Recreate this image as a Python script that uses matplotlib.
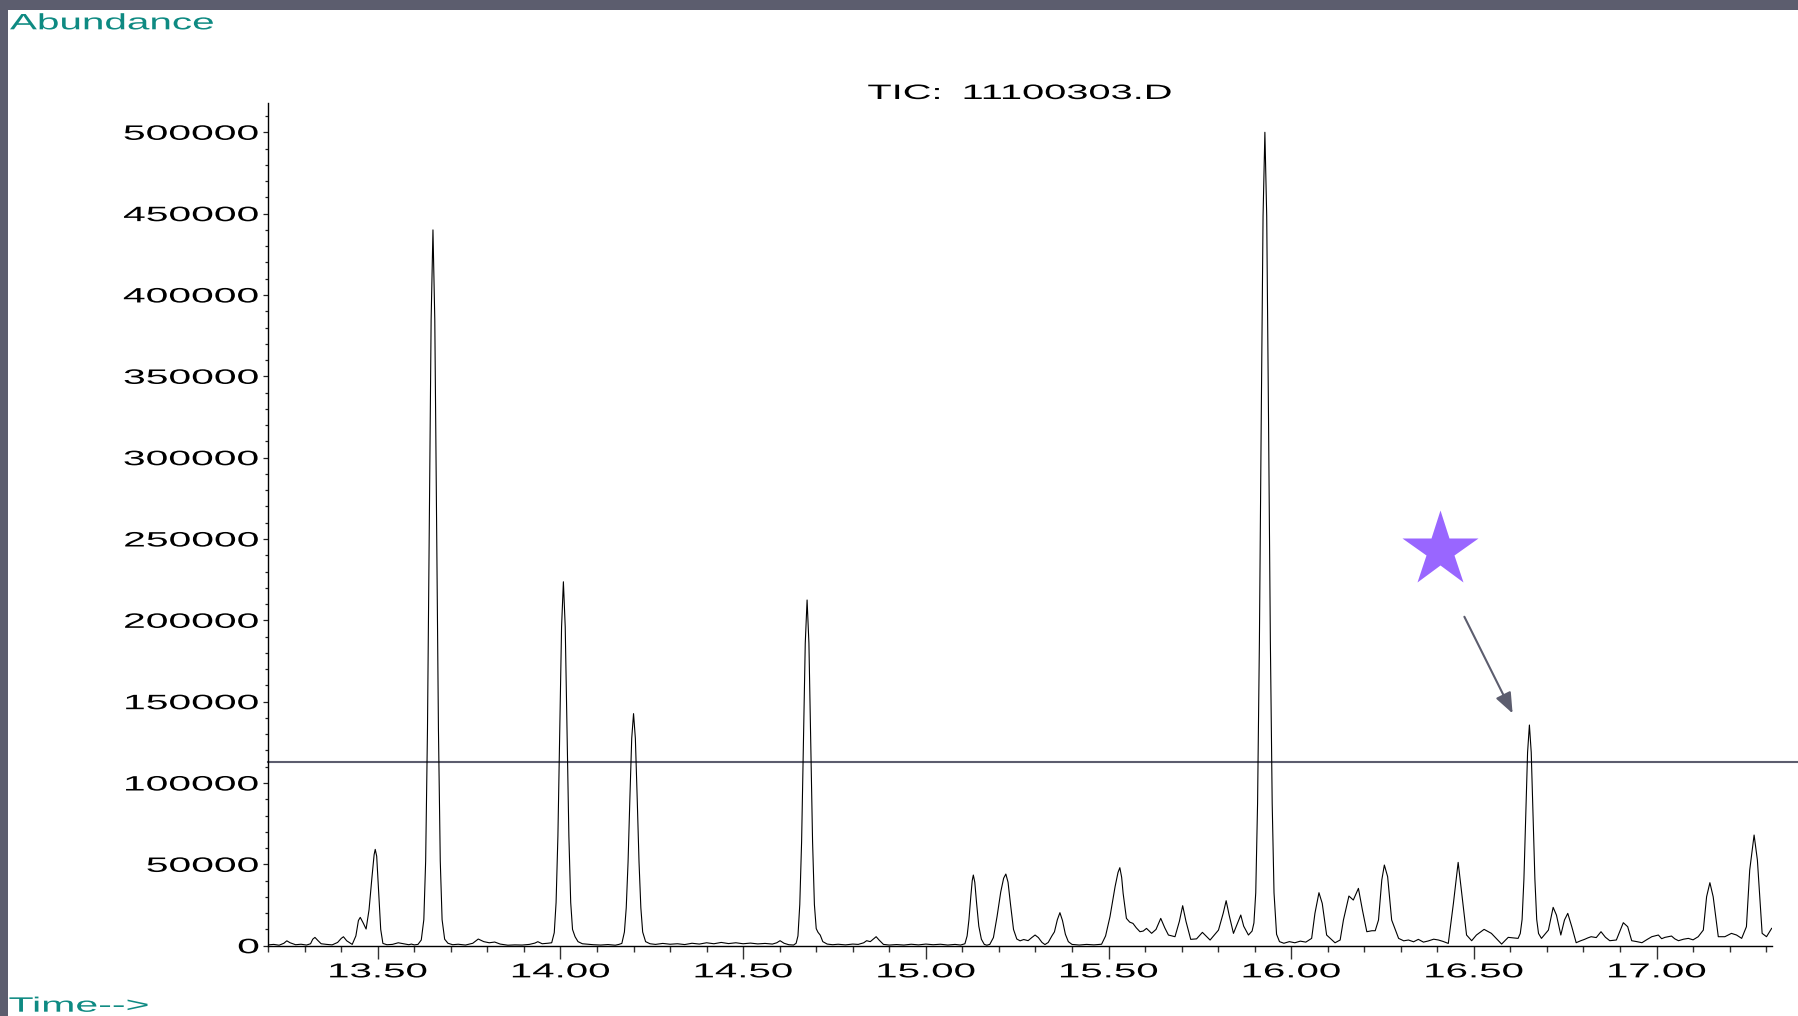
import matplotlib
matplotlib.use('Agg')
import numpy as np
import matplotlib.pyplot as plt
from matplotlib.patheffects import AbstractPathEffect
from matplotlib.transforms import Affine2D
from matplotlib.ticker import MultipleLocator, FuncFormatter
from matplotlib.patches import Rectangle

plt.rcParams['font.family'] = ['Liberation Sans', 'DejaVu Sans']

# ---------------- data ----------------
time_min = [
    13.200, 13.215, 13.230, 13.243, 13.251, 13.260, 13.275, 13.290, 13.305, 13.316,
    13.322, 13.328, 13.336, 13.345, 13.360, 13.375, 13.390, 13.400, 13.406, 13.415,
    13.430, 13.440, 13.447, 13.452, 13.460, 13.468, 13.476, 13.484, 13.490, 13.493,
    13.497, 13.503, 13.508, 13.514, 13.525, 13.540, 13.556, 13.570, 13.585, 13.592,
    13.600, 13.610, 13.619, 13.626, 13.631, 13.636, 13.641, 13.646, 13.651, 13.656,
    13.661, 13.666, 13.671, 13.676, 13.683, 13.692, 13.705, 13.720, 13.740, 13.760,
    13.775, 13.790, 13.805, 13.820, 13.835, 13.856, 13.875, 13.895, 13.915, 13.930,
    13.938, 13.950, 13.965, 13.976, 13.983, 13.988, 13.993, 13.998, 14.003, 14.008,
    14.013, 14.018, 14.023, 14.028, 14.033, 14.040, 14.048, 14.060, 14.075, 14.090,
    14.110, 14.130, 14.150, 14.160, 14.168, 14.175, 14.180, 14.185, 14.190, 14.195,
    14.200, 14.205, 14.210, 14.215, 14.220, 14.225, 14.233, 14.245, 14.260, 14.280,
    14.300, 14.320, 14.340, 14.360, 14.380, 14.400, 14.420, 14.440, 14.460, 14.480,
    14.500, 14.520, 14.540, 14.560, 14.580, 14.592, 14.601, 14.612, 14.625, 14.638,
    14.645, 14.650, 14.655, 14.660, 14.665, 14.670, 14.675, 14.680, 14.685, 14.690,
    14.695, 14.700, 14.705, 14.711, 14.718, 14.730, 14.745, 14.760, 14.780, 14.800,
    14.815, 14.830, 14.838, 14.848, 14.856, 14.864, 14.872, 14.884, 14.900, 14.920,
    14.940, 14.960, 14.980, 15.000, 15.020, 15.040, 15.060, 15.080, 15.095, 15.107,
    15.113, 15.118, 15.123, 15.127, 15.130, 15.134, 15.139, 15.145, 15.152, 15.160,
    15.167, 15.175, 15.185, 15.195, 15.205, 15.213, 15.219, 15.225, 15.232, 15.240,
    15.249, 15.258, 15.268, 15.280, 15.290, 15.299, 15.308, 15.318, 15.326, 15.335,
    15.345, 15.352, 15.360, 15.367, 15.374, 15.382, 15.390, 15.400, 15.420, 15.440,
    15.460, 15.481, 15.492, 15.504, 15.518, 15.526, 15.531, 15.536, 15.540, 15.549,
    15.558, 15.567, 15.576, 15.586, 15.595, 15.604, 15.618, 15.630, 15.643, 15.654,
    15.664, 15.682, 15.694, 15.703, 15.712, 15.725, 15.741, 15.757, 15.778, 15.801,
    15.814, 15.822, 15.830, 15.842, 15.855, 15.862, 15.870, 15.883, 15.893, 15.898,
    15.903, 15.908, 15.913, 15.918, 15.923, 15.928, 15.933, 15.938, 15.943, 15.948,
    15.953, 15.960, 15.968, 15.980, 15.995, 16.010, 16.025, 16.040, 16.056, 16.065,
    16.076, 16.085, 16.097, 16.120, 16.134, 16.143, 16.158, 16.170, 16.184, 16.195,
    16.207, 16.221, 16.230, 16.239, 16.248, 16.255, 16.264, 16.275, 16.294, 16.308,
    16.321, 16.335, 16.348, 16.362, 16.375, 16.390, 16.403, 16.416, 16.430, 16.444,
    16.457, 16.468, 16.480, 16.494, 16.507, 16.528, 16.548, 16.576, 16.594, 16.621,
    16.627, 16.632, 16.637, 16.642, 16.647, 16.652, 16.657, 16.662, 16.667, 16.672,
    16.677, 16.685, 16.704, 16.717, 16.726, 16.738, 16.748, 16.757, 16.768, 16.780,
    16.792, 16.803, 16.812, 16.821, 16.835, 16.848, 16.860, 16.872, 16.890, 16.909,
    16.921, 16.932, 16.946, 16.960, 16.974, 16.987, 17.005, 17.014, 17.023, 17.041,
    17.050, 17.060, 17.074, 17.087, 17.100, 17.114, 17.128, 17.137, 17.146, 17.155,
    17.169, 17.187, 17.205, 17.219, 17.233, 17.246, 17.255, 17.267, 17.276, 17.289,
    17.301, 17.315,
]
abundance = [
    500, 800, 300, 1500, 3000, 1800, 600, 900, 400, 1200,
    4000, 5100, 3200, 1200, 800, 500, 2000, 4500, 5500, 3000,
    800, 6000, 15500, 17400, 14000, 10250, 22000, 42000, 56000, 59200,
    55000, 30000, 10000, 1400, 600, 800, 1800, 1200, 600, 1000,
    500, 800, 3500, 16000, 52000, 133000, 259000, 385000, 440000, 385000,
    259000, 133000, 52000, 16000, 4000, 1500, 600, 900, 400, 1500,
    4100, 2500, 1800, 2250, 1000, 300, 500, 400, 800, 1600,
    2460, 1200, 1500, 1800, 8000, 26600, 67500, 131500, 196000, 223700,
    196000, 131500, 67500, 26600, 10000, 5500, 2500, 1200, 900, 600,
    400, 700, 300, 800, 1400, 8400, 23300, 51400, 90600, 127400,
    142650, 127400, 90600, 51400, 23300, 8400, 2500, 1200, 800, 1400,
    900, 1200, 700, 1500, 1000, 1800, 1200, 2000, 1300, 1800,
    1200, 1600, 1100, 1400, 1000, 1800, 3070, 1500, 600, 400,
    1500, 6000, 25300, 64000, 125000, 186000, 212500, 186000, 125000, 64000,
    25300, 10500, 8200, 6500, 2500, 1000, 600, 900, 500, 1000,
    800, 1800, 3070, 2500, 4000, 5530, 3500, 800, 400, 700,
    400, 900, 500, 1000, 600, 900, 400, 800, 400, 1200,
    6000, 16000, 30000, 40000, 43440, 39000, 26000, 12000, 4000, 800,
    300, 800, 5000, 18000, 33000, 41500, 44050, 39000, 25000, 10000,
    4100, 3000, 3800, 3100, 5000, 6560, 5000, 2000, 700, 2000,
    6000, 8500, 16000, 20290, 15500, 7000, 2500, 800, 400, 800,
    500, 900, 6000, 17800, 36300, 45000, 47950, 42000, 32200, 16800,
    14500, 13700, 11000, 8600, 9000, 10650, 7600, 10000, 16800, 11000,
    6560, 5530, 15000, 24590, 15000, 3900, 4200, 8200, 3480, 9600,
    20000, 27660, 19000, 7580, 15000, 18850, 12000, 6560, 9000, 14000,
    32500, 87500, 187000, 323000, 448500, 500000, 448500, 323000, 187000, 87500,
    32500, 7000, 2500, 1500, 2500, 1800, 2800, 2200, 4500, 19900,
    32580, 26000, 6560, 1800, 3500, 15800, 30530, 28070, 35240, 21900,
    8600, 9200, 9200, 15800, 40400, 49590, 42400, 15800, 4500, 3000,
    3500, 2400, 3900, 2200, 2900, 4000, 3500, 2600, 1400, 26000,
    51220, 30100, 6560, 3070, 6560, 10040, 7580, 1000, 5120, 4500,
    7500, 16100, 41000, 79800, 118800, 135650, 118800, 79800, 41000, 16100,
    7500, 4500, 9600, 23560, 18850, 6560, 15800, 19880, 11680, 1840,
    3000, 3900, 4800, 5530, 5000, 8600, 5200, 3070, 3500, 14140,
    11680, 3070, 2500, 1840, 3800, 5530, 6560, 4300, 5120, 5940,
    4200, 3070, 4000, 4500, 3600, 5530, 9600, 30100, 38730, 30100,
    5530, 5530, 7580, 6560, 4500, 11680, 46500, 68030, 52660, 7580,
    5530, 10650,
]
x_range = (13.1995, 17.316)
y_range = (0, 518000)
title_text = 'TIC: \u200911100303.D'
y_label = 'Abundance'
x_label = 'Time-->'
threshold_level = 112900
star_point = (16.4086, 243085)
arrow_from = (16.474, 202200)
arrow_to = (16.606, 142800)

TEAL = '#0e8a82'
GREY = '#5c5d6e'


class Stretch(AbstractPathEffect):
    """Widen glyph outlines horizontally (the source screenshot is stretched)."""

    def __init__(self, sx, anchor='center'):
        super().__init__((0, 0))
        self.sx = sx
        self.anchor = anchor

    def draw_path(self, renderer, gc, tpath, affine, rgbFace=None):
        ext = tpath.get_extents(affine)
        if not np.all(np.isfinite([ext.x0, ext.x1])):
            renderer.draw_path(gc, tpath, affine, rgbFace)
            return
        if self.anchor == 'left':
            x0 = ext.x0
        elif self.anchor == 'right':
            x0 = ext.x1
        else:
            x0 = 0.5 * (ext.x0 + ext.x1)
        tr = affine + Affine2D().translate(-x0, 0).scale(self.sx, 1).translate(x0, 0)
        renderer.draw_path(gc, tpath, tr, rgbFace)


W, H = 1799, 1016
fig = plt.figure(figsize=(W / 100, H / 100), dpi=100, facecolor=GREY)
fig.add_artist(Rectangle((8 / W, 0), 1, 1 - 10 / H, transform=fig.transFigure,
                         facecolor='white', edgecolor='none', zorder=-10))

ax_left, ax_right = 268, 1772
ax_top, ax_bottom = 103, 945.7
ax = fig.add_axes([ax_left / W, (H - ax_bottom) / H,
                   (ax_right - ax_left) / W, (ax_bottom - ax_top) / H])
ax.patch.set_visible(False)

ax.plot(time_min, abundance, color='black', lw=0.8, zorder=3)
ax.set_xlim(*x_range)
ax.set_ylim(*y_range)

for s in ('top', 'right'):
    ax.spines[s].set_visible(False)
for s in ('left', 'bottom'):
    ax.spines[s].set_linewidth(1.0)
    ax.spines[s].set_color('black')

ax.xaxis.set_major_locator(MultipleLocator(0.5))
ax.xaxis.set_minor_locator(MultipleLocator(0.1))
ax.xaxis.set_major_formatter(FuncFormatter(lambda v, p: f'{v:.2f}'))
ax.yaxis.set_major_locator(MultipleLocator(50000))
ax.yaxis.set_minor_locator(MultipleLocator(10000))
ax.yaxis.set_major_formatter(FuncFormatter(lambda v, p: f'{int(round(v))}'))

ax.tick_params(axis='x', which='major', direction='out', length=9, width=1.0,
               color='#333333', pad=3.0, labelsize=14.5)
ax.tick_params(axis='x', which='minor', direction='out', length=4.3, width=1.0,
               color='#333333')
ax.tick_params(axis='y', which='major', direction='out', length=3.6, width=0.9,
               color='#222222', pad=2.7, labelsize=15)
ax.tick_params(axis='y', which='minor', direction='out', length=2.2, width=0.9,
               color='#222222')

ax.set_title(title_text, fontsize=15, pad=2.2, color='black',
             path_effects=[Stretch(1.91, 'center')])

ax.set_ylabel(y_label, fontsize=16, color=TEAL, rotation=0, ha='left', va='baseline',
              path_effects=[Stretch(1.82, 'left')])
ax.yaxis.set_label_coords((10 - ax_left) / (ax_right - ax_left),
                          (ax_bottom - 29.3) / (ax_bottom - ax_top))
ax.set_xlabel(x_label, fontsize=15, color=TEAL, ha='left', va='baseline',
              path_effects=[Stretch(1.97, 'left')])
ax.xaxis.set_label_coords((9 - ax_left) / (ax_right - ax_left),
                          (ax_bottom - 1011.7) / (ax_bottom - ax_top))

# threshold line running from the y axis to the right edge of the picture
ax.axhline(threshold_level, xmin=0, xmax=1 + (W - ax_right) / (ax_right - ax_left),
           color=GREY, lw=1.5, clip_on=False, zorder=2)

# star marker and arrow pointing at the 16.65 min peak
ax.plot([star_point[0]], [star_point[1]], marker='*', ms=57, color='#9966ff',
        mec='none', linestyle='none', zorder=4, clip_on=False)
ax.annotate('', xy=arrow_to, xytext=arrow_from,
            arrowprops=dict(arrowstyle='-|>,head_length=1.25,head_width=0.5',
                            color=GREY, lw=1.5, shrinkA=0, shrinkB=0),
            annotation_clip=False, zorder=4)

fig.canvas.draw()
for lbl in ax.get_yticklabels():
    lbl.set_path_effects([Stretch(1.96, 'right')])
for lbl in ax.get_xticklabels():
    lbl.set_path_effects([Stretch(2.0, 'center')])

fig.savefig('out.png', dpi=100, facecolor=fig.get_facecolor())
